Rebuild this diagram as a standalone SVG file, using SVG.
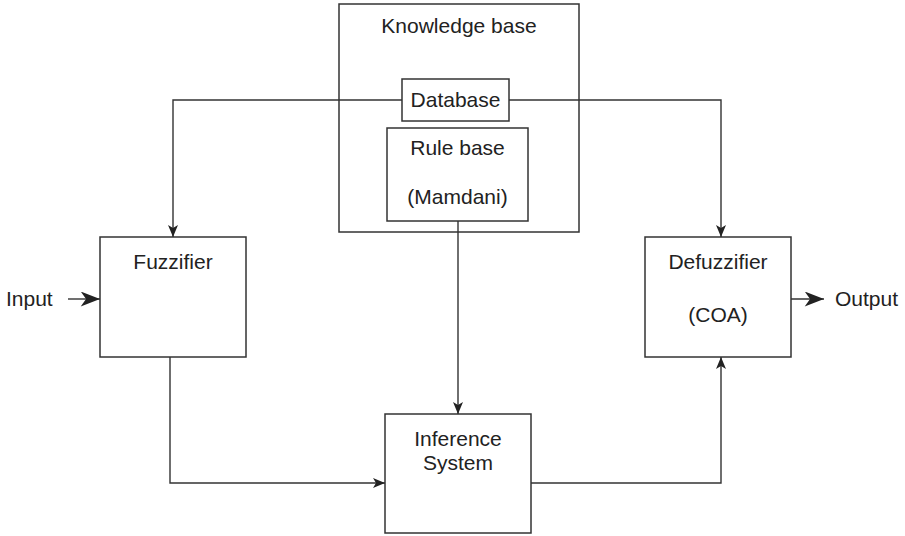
<svg xmlns="http://www.w3.org/2000/svg" width="905" height="536" viewBox="0 0 905 536">
<defs>
<style>
.box{fill:none;stroke:#333;stroke-width:1.5}
.wire{fill:none;stroke:#333;stroke-width:1.4}
text{font-family:"Liberation Sans",Arial,sans-serif;font-size:21px;fill:#222;text-anchor:middle}
</style>
<marker id="ah" viewBox="0 0 12 10" refX="12" refY="5" markerWidth="12" markerHeight="10" markerUnits="userSpaceOnUse" orient="auto">
<path d="M0,0 L12,5 L0,10 L3,5 Z" fill="#222"/>
</marker>
<marker id="ahb" viewBox="0 0 18 14" refX="18" refY="7" markerWidth="20" markerHeight="15" markerUnits="userSpaceOnUse" orient="auto">
<path d="M0,0 L18,7 L0,14 L5,7 Z" fill="#222"/>
</marker>
</defs>
<g id="knowledge-base">
<rect class="box" x="339" y="4" width="240" height="228"/>
<text x="459" y="33">Knowledge base</text>
</g>
<g id="database">
<rect class="box" x="402" y="79" width="107" height="42"/>
<text x="455.5" y="107">Database</text>
</g>
<g id="rule-base">
<rect class="box" x="387" y="128" width="141" height="93"/>
<text x="457.5" y="155">Rule base</text>
<text x="457.5" y="204">(Mamdani)</text>
</g>
<g id="fuzzifier">
<rect class="box" x="100" y="237" width="146" height="120"/>
<text x="173" y="269">Fuzzifier</text>
</g>
<g id="defuzzifier">
<rect class="box" x="645" y="237" width="146" height="120"/>
<text x="718" y="269">Defuzzifier</text>
<text x="718" y="322">(COA)</text>
</g>
<g id="inference">
<rect class="box" x="385" y="414" width="146" height="119"/>
<text x="458" y="446">Inference</text>
<text x="458" y="470">System</text>
</g>
<g id="input">
<text x="6" y="306" style="text-anchor:start">Input</text>
</g>
<g id="output">
<text x="835" y="306" style="text-anchor:start">Output</text>
</g>
<g id="connectors">
<path class="wire" d="M402,100 H173 V237" marker-end="url(#ah)"/>
<path class="wire" d="M509,100 H721 V237" marker-end="url(#ah)"/>
<path class="wire" d="M458,221 V414" marker-end="url(#ah)"/>
<path class="wire" d="M170,357 V483 H385" marker-end="url(#ah)"/>
<path class="wire" d="M531,483 H721 V357" marker-end="url(#ah)"/>
<path class="wire" d="M68,299 H100" marker-end="url(#ahb)"/>
<path class="wire" d="M791,299 H824" marker-end="url(#ahb)"/>
</g>
</svg>
